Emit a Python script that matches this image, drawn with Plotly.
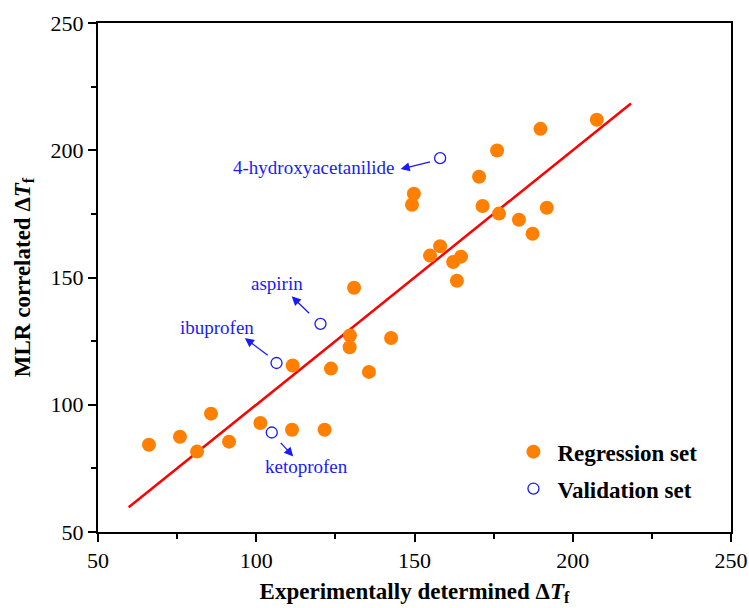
import plotly.graph_objects as go

# regression set (experimental, MLR correlated)
reg_exp = [66.1, 75.9, 81.3, 85.7, 91.4, 101.3, 111.5, 111.3, 121.6, 123.6, 129.6, 129.5, 130.9,
           135.6, 142.6, 149.2, 149.8, 154.9, 158.1, 162.2, 163.4, 164.7, 170.4, 171.5, 176.1,
           176.7, 183.0, 187.3, 189.8, 191.8, 207.6]
reg_mlr = [84.3, 87.4, 81.6, 96.5, 85.5, 92.8, 115.4, 90.2, 90.2, 114.2, 127.2, 122.6, 146.0,
           112.9, 126.2, 178.6, 182.9, 158.6, 162.3, 156.1, 148.7, 158.2, 189.6, 178.1, 199.9,
           175.1, 172.7, 167.2, 208.4, 177.4, 212.0]

# validation set
val_names = ['4-hydroxyacetanilide', 'aspirin', 'ibuprofen', 'ketoprofen']
val_exp = [158.1, 120.3, 106.4, 104.9]
val_mlr = [196.9, 131.8, 116.4, 89.1]

# fitted line y = x
fit_x = [59.7, 218.4]
fit_y = [59.7, 218.4]

serif = 'Liberation Serif, Times New Roman, serif'
blue = '#1a1aff'

fig = go.Figure()
fig.add_trace(go.Scatter(x=fit_x, y=fit_y, mode='lines', line=dict(color='#ff0000', width=2.5),
                         showlegend=False, hoverinfo='skip'))
fig.add_trace(go.Scatter(x=reg_exp, y=reg_mlr, mode='markers', name='Regression set',
                         legendgroup='reg',
                         marker=dict(color='#ff8000', size=14, line=dict(width=0))))
fig.add_trace(go.Scatter(x=val_exp, y=val_mlr, mode='markers', name='Validation set',
                         legendgroup='val',
                         marker=dict(color='white', size=11, line=dict(color=blue, width=1.3))))

# labels and arrows (arrow tail near the circle, head at label)
labels = [
    # text, text x, text y, arrow head x,y, arrow tail x,y
    ('4-hydroxyacetanilide', 118.2, 193.2, 145.6, 192.6, 155.4, 195.6),
    ('aspirin', 106.6, 147.8, 111.2, 142.6, 117.2, 135.4),
    ('ibuprofen', 87.6, 130.2, 96.4, 126.2, 104.1, 119.0),
    ('ketoprofen', 116.0, 75.8, 111.7, 79.7, 107.3, 85.6),
]
for t, tx, ty, hx, hy, sx, sy in labels:
    fig.add_annotation(x=tx, y=ty, text=t, showarrow=False,
                       font=dict(family=serif, size=19, color=blue))
    fig.add_annotation(x=hx, y=hy, ax=sx, ay=sy, axref='x', ayref='y', text='',
                       showarrow=True, arrowhead=2, arrowsize=1.4, arrowwidth=1.3,
                       arrowcolor=blue)

axis_common = dict(showline=True, linecolor='black', linewidth=2, mirror=True,
                   ticks='outside', ticklen=8, tickwidth=1.5, tickcolor='black',
                   showgrid=False, zeroline=False, dtick=50, automargin=False,
                   ticklabeloverflow='allow',
                   minor=dict(ticks='outside', ticklen=5, tickwidth=1.5, tickcolor='black', dtick=25),
                   tickfont=dict(family=serif, size=22, color='black'))

fig.update_xaxes(range=[50, 250], tick0=50,
                 title=dict(text='<b>Experimentally determined Δ<i>T</i><sub>f</sub></b>',
                            font=dict(family=serif, size=23, color='black'), standoff=10),
                 **axis_common)
fig.update_yaxes(range=[50, 250], tick0=50,
                 title=dict(text='<b>MLR correlated Δ<i>T</i><sub>f</sub></b>',
                            font=dict(family=serif, size=23, color='black'), standoff=14),
                 **axis_common)

fig.update_layout(width=749, height=608, plot_bgcolor='white', paper_bgcolor='white',
                  margin=dict(l=98, r=18, t=23, b=76),
                  legend=dict(x=0.65, y=0.2, xanchor='left', yanchor='top',
                              bgcolor='rgba(0,0,0,0)', tracegroupgap=4, itemwidth=38,
                              font=dict(family=serif, size=23, color='black', weight='bold')))

# drop the default body margin so the figure fills the window exactly
fig.write_html('out.html', config={'displayModeBar': False},
               post_script="document.body.style.margin='0';")
